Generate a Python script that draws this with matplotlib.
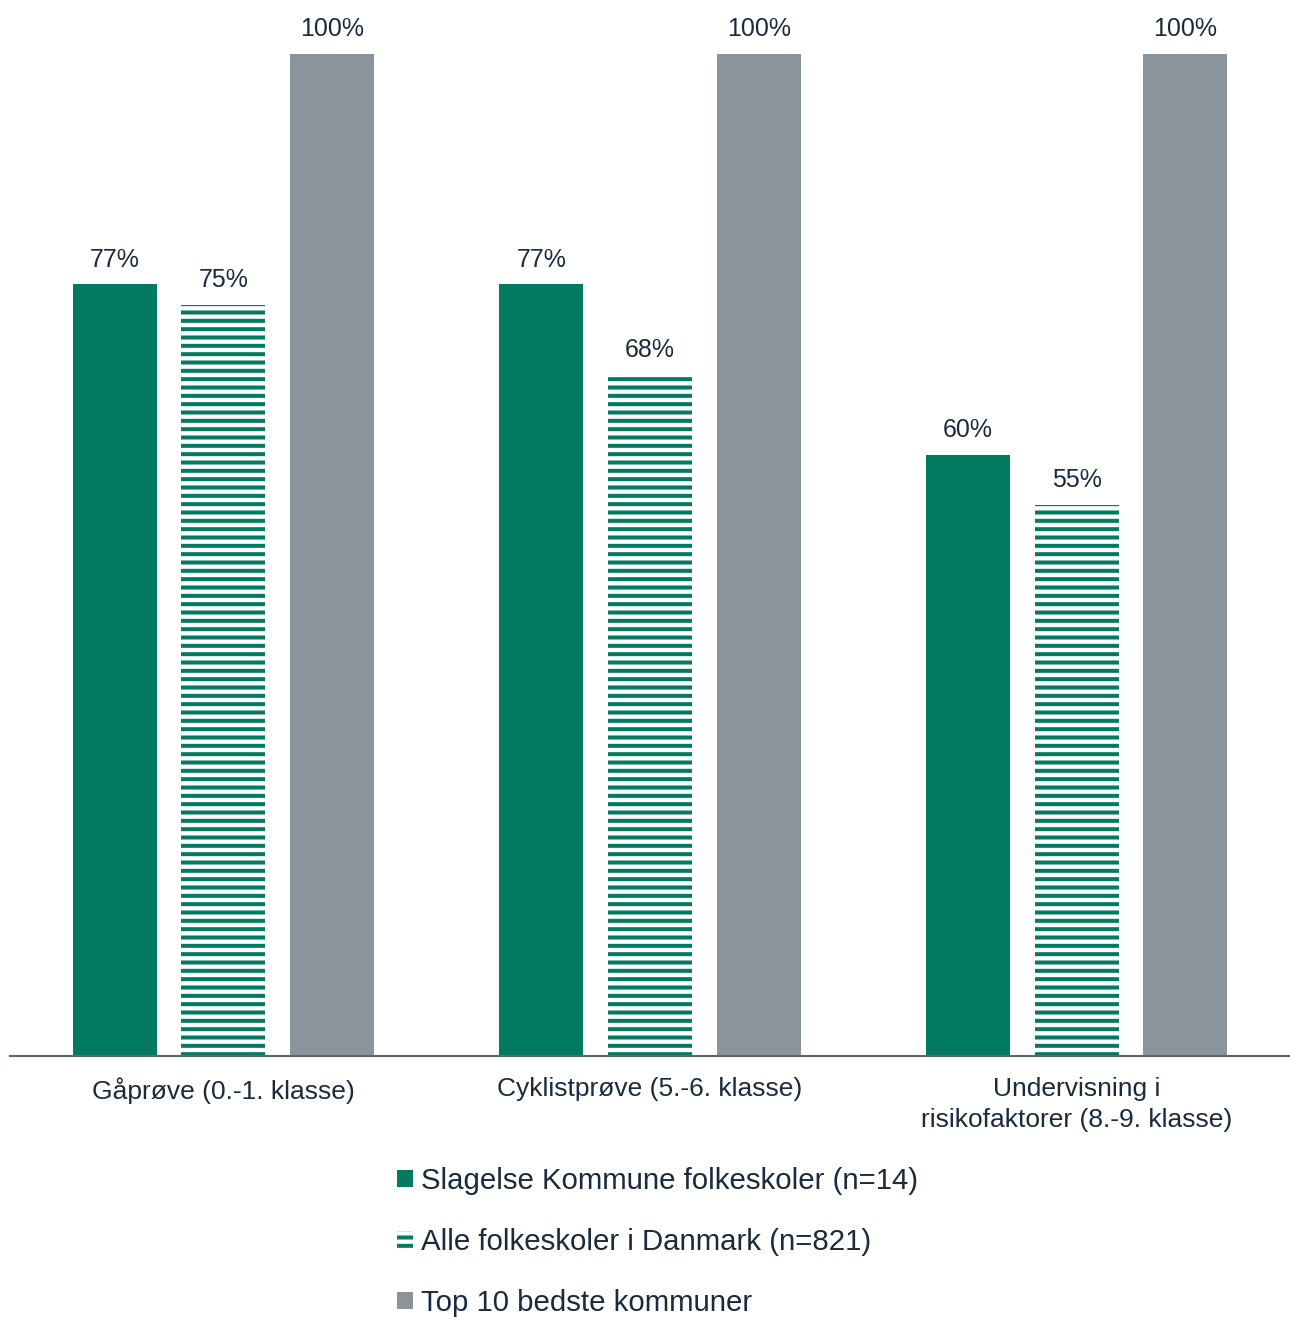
import numpy as np
import matplotlib
matplotlib.use('Agg')
import matplotlib.pyplot as plt

categories = ['Gåprøve (0.-1. klasse)', 'Cyklistprøve (5.-6. klasse)',
              'Undervisning i\nrisikofaktorer (8.-9. klasse)']
slagelse = [77, 77, 60]
danmark = [75, 68, 55]
top10 = [100, 100, 100]
series_names = ['Slagelse Kommune folkeskoler (n=14)',
                'Alle folkeskoler i Danmark (n=821)',
                'Top 10 bedste kommuner']

green = '#047a62'
grey = '#89949c'
txt = '#1b2a3d'

plt.rcParams['font.family'] = ['Liberation Sans', 'DejaVu Sans']
plt.rcParams['hatch.linewidth'] = 2.9

fig = plt.figure(figsize=(12.9, 13.17), dpi=100)
H = 1317.0
ax = fig.add_axes([10 / 1290, 1 - 1056 / H, 1280 / 1290, (1056 - 54) / H])

x = np.arange(len(categories))
w = 0.197
step = 0.255

b1 = ax.bar(x - step, slagelse, w, color=green, label=series_names[0])
b2 = ax.bar(x, danmark, w, facecolor='white', edgecolor=green, linewidth=0,
            hatch='--', label=series_names[1])
b3 = ax.bar(x + step, top10, w, color=grey, label=series_names[2])

for bars in (b1, b2, b3):
    for r in bars:
        ax.annotate('%d%%' % round(r.get_height()),
                    (r.get_x() + r.get_width() / 2, r.get_height()),
                    xytext=(0, 9), textcoords='offset points',
                    ha='center', va='bottom', fontsize=18, color=txt,
                    annotation_clip=False)

ax.set_xlim(-0.5, 2.5)
ax.set_ylim(0, 100)
for s in ['top', 'right', 'left']:
    ax.spines[s].set_visible(False)
ax.spines['bottom'].set_color('#5a6670')
ax.spines['bottom'].set_linewidth(1.5)
ax.set_yticks([])
ax.set_xticks(x)
ax.set_xticklabels(categories, fontsize=19, color=txt, linespacing=1.4)
ax.tick_params(axis='x', length=0, pad=15)

leg = fig.legend(handles=[b1, b2, b3], loc='upper left',
                 bbox_to_anchor=(397 / 1290, 1 - 1167 / H),
                 frameon=False, fontsize=21.2, handlelength=0.55,
                 handleheight=0.55, handletextpad=0.25, labelspacing=1.12,
                 borderpad=0, borderaxespad=0)
for t in leg.get_texts():
    t.set_color(txt)

fig.savefig('out.png', dpi=100)
